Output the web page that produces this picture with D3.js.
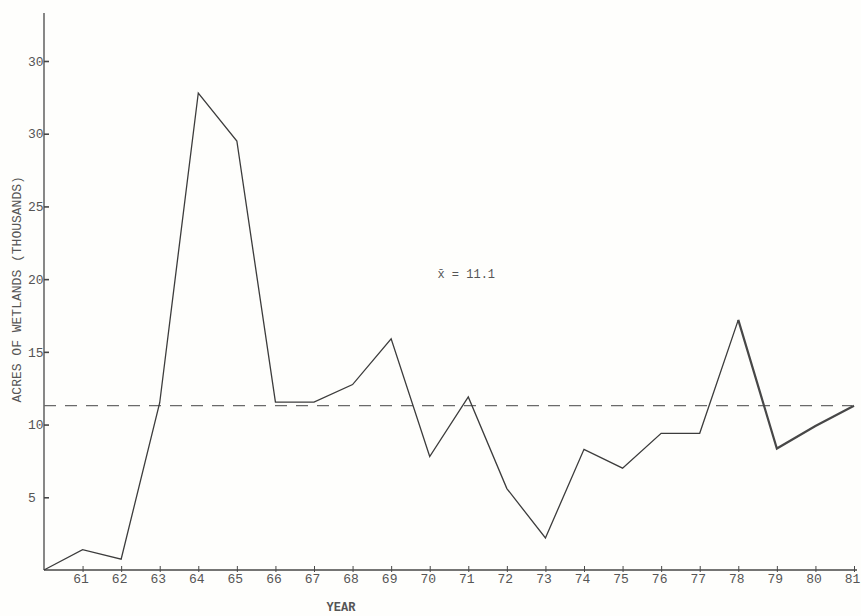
<!DOCTYPE html>
<html>
<head>
<meta charset="utf-8">
<script src="https://cdn.jsdelivr.net/npm/d3@7"></script>
<style>
  html, body { margin: 0; padding: 0; background: #fefefc; }
  svg { display: block; }
</style>
</head>
<body>
<svg id="chart" width="861" height="616"></svg>
<script>
// ---- data ----
const years = [60, 61, 62, 63, 64, 65, 66, 67, 68, 69, 70, 71, 72, 73, 74, 75, 76, 77, 78, 79, 80, 81];
const acres = [0, 1.4, 0.75, 11.5, 32.8, 29.5, 11.55, 11.55, 12.75, 15.9, 7.8, 11.9, 5.6, 2.2, 8.3, 7.0, 9.4, 9.4, 17.2, 8.35, 9.9, 11.3];
const meanValue = 11.3;
const meanLabel = "x\u0304 = 11.1";
const xTickValues = [61, 62, 63, 64, 65, 66, 67, 68, 69, 70, 71, 72, 73, 74, 75, 76, 77, 78, 79, 80, 81];
const xTickLabels = ["61", "62", "63", "64", "65", "66", "67", "68", "69", "70", "71", "72", "73", "74", "75", "76", "77", "78", "79", "80", "81"];
const yTickValues = [5, 10, 15, 20, 25, 30, 35];
const yTickLabels = ["5", "10", "15", "20", "25", "30", "30"];
const xTitle = "YEAR";
const yTitle = "ACRES OF WETLANDS (THOUSANDS)";

// ---- layout ----
const svg = d3.select("#chart");
const x = d3.scaleLinear().domain([60, 81]).range([44, 854]);
const y = d3.scaleLinear().domain([0, 38.3]).range([570, 13]);
const font = "'Liberation Mono', 'DejaVu Sans Mono', monospace";
const textColor = "#555";
const axisColor = "#474747";

// axis lines
svg.append("line")
  .attr("x1", x(60)).attr("x2", x(81) + 3)
  .attr("y1", y(0)).attr("y2", y(0))
  .attr("stroke", axisColor).attr("stroke-width", 1.3);
svg.append("line")
  .attr("x1", x(60)).attr("x2", x(60))
  .attr("y1", y(0)).attr("y2", y(38.3))
  .attr("stroke", axisColor).attr("stroke-width", 1.3);

// x axis ticks
const xAxis = d3.axisBottom(x)
  .tickValues(xTickValues)
  .tickFormat((d, i) => xTickLabels[i])
  .tickSizeInner(-4)
  .tickSizeOuter(0)
  .tickPadding(4);
const gx = svg.append("g").attr("transform", `translate(0,${y(0)})`).call(xAxis);
gx.select(".domain").remove();
gx.selectAll(".tick line").attr("stroke", axisColor).attr("y2", -4).attr("y1", 2);
gx.selectAll(".tick text")
  .attr("fill", textColor)
  .attr("font-family", font)
  .attr("font-size", 13)
  .attr("dx", -2);

// y axis ticks
const yAxis = d3.axisLeft(y)
  .tickValues(yTickValues)
  .tickFormat((d, i) => yTickLabels[i])
  .tickSizeInner(-5)
  .tickSizeOuter(0)
  .tickPadding(16);
const gy = svg.append("g").attr("transform", `translate(${x(60)},0)`).call(yAxis);
gy.select(".domain").remove();
gy.selectAll(".tick line").attr("stroke", axisColor).attr("stroke-width", 1.6);
gy.selectAll(".tick text")
  .attr("fill", textColor)
  .attr("font-family", font)
  .attr("font-size", 13)
  .attr("text-anchor", "start");

// mean dashed line
svg.append("line")
  .attr("x1", x(60)).attr("x2", x(80.95))
  .attr("y1", y(meanValue)).attr("y2", y(meanValue))
  .attr("stroke", "#6a6a6a")
  .attr("stroke-width", 1.4)
  .attr("stroke-dasharray", "12,9");

// data line
const pts = years.map((yr, i) => ({ yr, v: acres[i] }));
const line = d3.line().x(d => x(d.yr)).y(d => y(d.v));
const split = years.indexOf(78);
svg.append("path")
  .datum(pts.slice(0, split + 1))
  .attr("d", line)
  .attr("fill", "none")
  .attr("stroke", "#3c3c3c")
  .attr("stroke-width", 1.3)
  .attr("stroke-linejoin", "miter");
svg.append("path")
  .datum(pts.slice(split))
  .attr("d", line)
  .attr("fill", "none")
  .attr("stroke", "#474747")
  .attr("stroke-width", 2.2)
  .attr("stroke-linejoin", "miter");

// mean label
svg.append("text")
  .attr("x", x(70.2)).attr("y", y(20.1))
  .attr("fill", textColor)
  .attr("font-family", font)
  .attr("font-size", 12)
  .text(meanLabel);

// axis titles
svg.append("text")
  .attr("x", x(67.7)).attr("y", 611)
  .attr("text-anchor", "middle")
  .attr("fill", textColor)
  .attr("font-family", font)
  .attr("font-size", 12)
  .attr("font-weight", "bold")
  .text(xTitle);
svg.append("text")
  .attr("transform", `translate(21,${y(19.3)}) rotate(-90)`)
  .attr("text-anchor", "middle")
  .attr("fill", textColor)
  .attr("font-family", font)
  .attr("font-size", 13)
  .text(yTitle);
</script>
</body>
</html>
